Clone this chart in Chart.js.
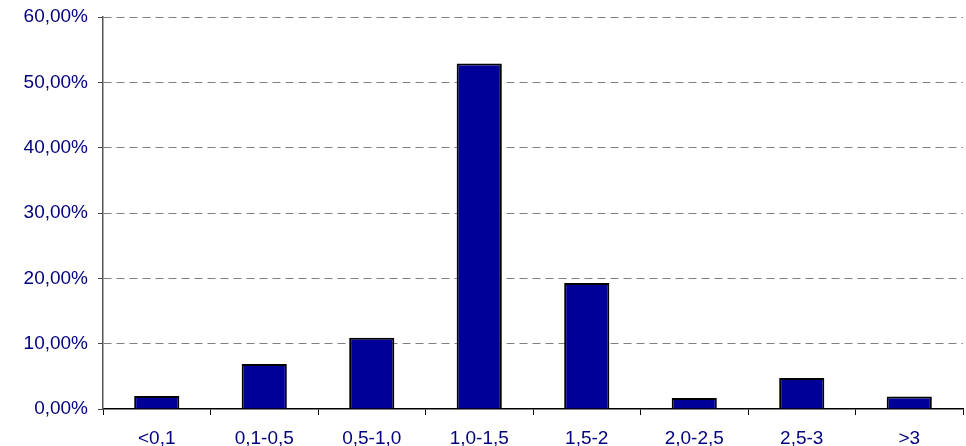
<!DOCTYPE html>
<html>
<head>
<meta charset="utf-8">
<script src="https://cdn.jsdelivr.net/npm/chart.js@4/dist/chart.umd.min.js"></script>
<style>
  html, body { margin: 0; padding: 0; background: #fff; }
  #wrap { width: 966px; height: 446px; }
</style>
</head>
<body>
<div id="wrap"><canvas id="myChart"></canvas></div>
<script>
const rangos = ['<0,1', '0,1-0,5', '0,5-1,0', '1,0-1,5', '1,5-2', '2,0-2,5', '2,5-3', '>3'];
const porcentajes = [2.0, 6.9, 10.9, 52.9, 19.3, 1.7, 4.75, 1.9];
const yMax = 60;
const yPaso = 10;

const azulTexto = '#000080';
const fuente = { family: 'Arial, "Liberation Sans", sans-serif', size: 19 };

const ctx = document.getElementById('myChart').getContext('2d');
const myChart = new Chart(ctx, {
    type: 'bar',
    data: {
        labels: rangos,
        datasets: [{
            data: porcentajes,
            backgroundColor: 'rgb(0, 0, 153)',
            borderColor: '#000',
            borderWidth: 2,
            barPercentage: 0.42,
            categoryPercentage: 1
        }]
    },
    options: {
        responsive: true,
        maintainAspectRatio: false,
        animation: false,
        layout: { padding: { top: 17, right: 3, left: 0, bottom: 0 } },
        plugins: {
            legend: { display: false },
            tooltip: { enabled: false }
        },
        scales: {
            x: {
                grid: {
                    offset: true,
                    drawOnChartArea: false,
                    drawTicks: true,
                    tickLength: 6,
                    tickColor: '#000',
                    tickWidth: 1
                },
                border: { color: '#000', width: 1.5 },
                ticks: { color: azulTexto, font: fuente, padding: 12, maxRotation: 0, autoSkip: false },
                afterFit: s => { s.height = 37; }
            },
            y: {
                min: 0,
                max: yMax,
                grid: {
                    color: c => c.tick && c.tick.value === 0 ? 'rgba(0,0,0,0)' : '#808080',
                    tickColor: '#444',
                    tickLength: 5,
                    tickWidth: 1
                },
                border: { color: '#555', width: 1.5, dash: [8, 5] },
                ticks: {
                    stepSize: yPaso,
                    color: azulTexto,
                    font: fuente,
                    padding: 10,
                    callback: v => v.toFixed(2).replace('.', ',') + '%'
                },
                afterFit: s => {
                    s.width = 103;
                    s.paddingTop = 10;
                    s.paddingBottom = 10;
                }
            }
        }
    }
});
</script>
</body>
</html>
